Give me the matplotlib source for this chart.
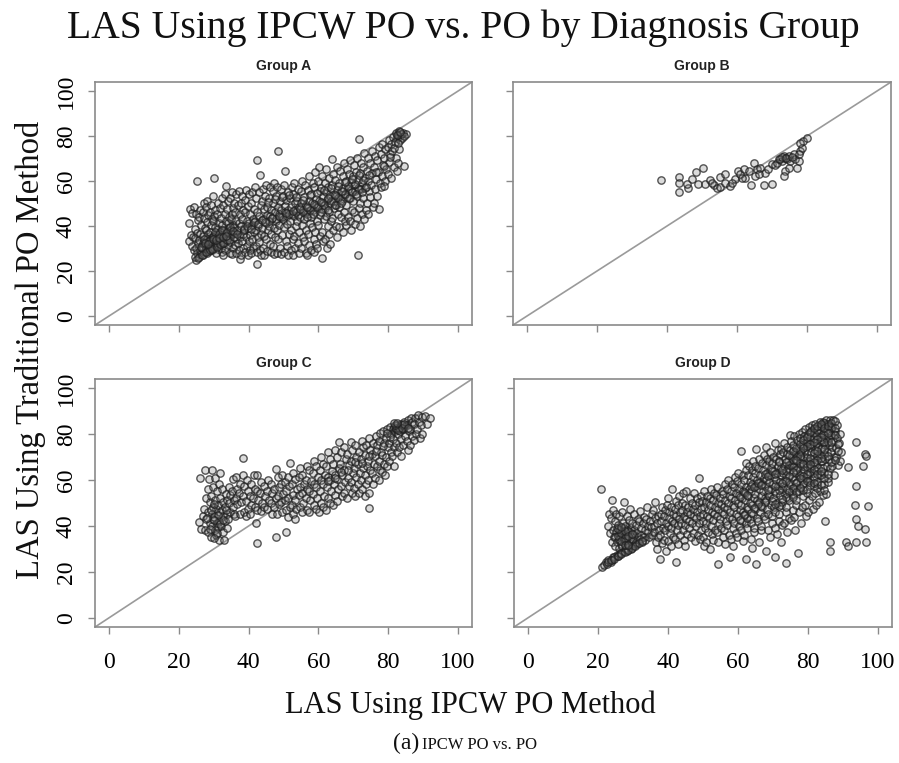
import numpy as np
import matplotlib.pyplot as plt

# (IPCW PO, traditional PO) LAS pairs, estimated point by point from the reference
group_a_pts = [
    (23.2, 47.5), (22.8, 41.3), (23.6, 36.2), (22.9, 33.4),
    (24.3, 48.4), (23.9, 45.6), (24.5, 38.7), (24.1, 35.3), (23.7, 31.2), (24.4, 29.5),
    (25.1, 60.2), (24.8, 45.3), (25.4, 42.6), (25.2, 37.1), (24.7, 34.6), (25.5, 32.3),
    (24.9, 30.4), (25.3, 28.1), (24.6, 26.3), (25.0, 25.1),
    (26.2, 47.3), (25.8, 44.2), (26.4, 40.6), (26.1, 36.4), (25.7, 33.8), (26.5, 31.2),
    (26.0, 29.3), (26.3, 27.4), (25.9, 26.2),
    (27.3, 50.4), (26.8, 46.1), (27.1, 43.5), (27.5, 39.2), (26.9, 35.6), (27.2, 33.1),
    (27.6, 31.5), (26.7, 30.2), (27.4, 28.3), (27.0, 27.2),
    (28.1, 51.2), (27.8, 48.5), (28.4, 45.1), (28.2, 41.6), (27.9, 38.3), (28.5, 36.4),
    (28.0, 34.2), (28.3, 32.5), (27.7, 30.4), (28.6, 29.1), (28.2, 28.2),
    (29.2, 49.5), (28.9, 46.3), (29.4, 43.2), (29.1, 40.5), (28.8, 37.4), (29.5, 35.2),
    (29.0, 33.6), (29.3, 31.1), (28.7, 30.1), (29.6, 29.4),
    (30.1, 61.2), (29.9, 53.4), (30.4, 47.3), (30.2, 44.6), (29.8, 42.1), (30.5, 39.4),
    (30.0, 36.2), (30.3, 34.5), (29.7, 32.2), (30.6, 31.3), (30.2, 30.3),
    (31.2, 50.3), (30.8, 45.5), (31.4, 41.2), (31.1, 38.6), (30.9, 35.3), (31.5, 33.2),
    (31.0, 31.4), (31.3, 29.6), (30.7, 27.8),
    (32.3, 52.4), (31.8, 48.1), (32.1, 43.5), (32.5, 40.3), (31.9, 37.2), (32.2, 35.6),
    (32.6, 33.1), (32.0, 30.4), (32.4, 28.5),
    (33.4, 57.8), (33.1, 54.2), (32.8, 49.4), (33.3, 45.2), (33.6, 42.4), (32.9, 38.3),
    (33.2, 36.5), (33.5, 34.2), (33.0, 32.3), (33.3, 29.4), (32.8, 27.3),
    (34.2, 51.3), (33.9, 47.4), (34.4, 44.1), (34.0, 41.5), (34.5, 39.2), (33.8, 37.3),
    (34.3, 35.1), (34.1, 31.4), (34.6, 28.2),
    (35.1, 55.3), (34.8, 52.4), (35.4, 48.2), (35.2, 45.4), (34.9, 43.1), (35.5, 40.3),
    (35.0, 38.2), (35.3, 36.4), (34.7, 33.1), (35.6, 30.2), (35.2, 27.4),
    (36.3, 54.1), (35.8, 50.4), (36.1, 46.3), (36.5, 42.2), (35.9, 39.4), (36.2, 37.1),
    (36.6, 34.3), (36.0, 31.4), (36.4, 28.2),
    (37.2, 55.4), (36.9, 49.2), (37.5, 45.3), (37.1, 41.4), (36.8, 38.2), (37.4, 35.1),
    (37.0, 32.4), (37.3, 29.2), (37.5, 25.3),
    (38.1, 53.2), (37.8, 50.4), (38.4, 47.1), (38.2, 43.3), (37.9, 40.2), (38.5, 36.4),
    (38.0, 33.2), (38.3, 30.1), (37.7, 27.3),
    (39.3, 56.2), (38.9, 51.4), (39.1, 46.2), (39.5, 42.3), (38.8, 38.4), (39.2, 35.2),
    (39.6, 31.3), (39.0, 28.4),
    (40.2, 54.3), (39.8, 49.1), (40.4, 45.4), (40.1, 41.2), (39.9, 39.3), (40.5, 36.1),
    (40.0, 33.4), (40.3, 29.2), (39.7, 27.3),
    (41.1, 55.2), (40.8, 50.3), (41.4, 47.4), (41.2, 43.2), (40.9, 40.4), (41.5, 37.3),
    (41.0, 34.2), (41.3, 30.4), (40.7, 28.2),
    (42.3, 69.2), (41.9, 57.4), (42.2, 52.3), (42.5, 46.1), (41.8, 42.4), (42.1, 38.2),
    (42.6, 35.3), (42.0, 31.2), (42.4, 28.4), (42.3, 23.3),
    (43.3, 62.7), (42.9, 55.3), (43.4, 49.2), (43.1, 44.4), (42.8, 40.2), (43.5, 36.3),
    (43.0, 33.1), (43.2, 29.4), (43.6, 27.2),
    (44.2, 56.3), (43.8, 51.1), (44.4, 47.4), (44.1, 43.2), (43.9, 39.3), (44.5, 35.4),
    (44.0, 30.2), (44.3, 27.3),
    (45.1, 58.4), (44.8, 53.2), (45.4, 48.3), (45.2, 45.1), (44.9, 41.4), (45.5, 38.2),
    (45.0, 34.3), (45.3, 29.1),
    (46.2, 57.3), (45.8, 52.4), (46.4, 47.2), (46.1, 44.3), (45.9, 40.1), (46.5, 36.4),
    (46.0, 32.2), (46.3, 28.3),
    (47.3, 59.2), (46.9, 55.4), (47.1, 50.3), (47.5, 46.2), (46.8, 43.4), (47.2, 39.1),
    (47.6, 35.3), (47.0, 31.2), (47.4, 27.4),
    (48.4, 73.2), (48.1, 57.3), (47.8, 53.2), (48.3, 48.4), (48.6, 45.2), (47.9, 42.3),
    (48.2, 38.1), (48.5, 34.4), (48.0, 28.2),
    (49.2, 56.4), (48.9, 51.2), (49.4, 47.3), (49.1, 44.1), (48.8, 40.4), (49.5, 36.2),
    (49.0, 30.3), (49.3, 27.4),
    (50.4, 64.4), (50.1, 58.2), (49.8, 53.3), (50.3, 49.1), (50.5, 46.4), (49.9, 43.2),
    (50.2, 39.4), (50.6, 33.2), (50.0, 28.3),
    (51.2, 55.3), (50.8, 51.4), (51.4, 47.2), (51.1, 44.3), (50.9, 41.1), (51.5, 36.4),
    (51.0, 31.2), (51.3, 27.3),
    (52.3, 57.2), (51.9, 52.3), (52.1, 48.4), (52.5, 45.2), (51.8, 42.1), (52.2, 38.3),
    (52.6, 34.2), (52.0, 29.4),
    (53.1, 59.3), (52.8, 54.2), (53.4, 50.4), (53.2, 47.1), (52.9, 44.3), (53.5, 40.2),
    (53.0, 35.4), (53.3, 30.1), (52.7, 27.2),
    (54.2, 56.4), (53.8, 51.2), (54.4, 48.3), (54.1, 45.1), (53.9, 42.4), (54.5, 37.2),
    (54.0, 32.3), (54.3, 28.1),
    (55.3, 60.2), (54.9, 55.4), (55.1, 50.2), (55.5, 47.3), (54.8, 44.2), (55.2, 40.4),
    (55.6, 35.1), (55.0, 30.3),
    (56.1, 58.3), (55.8, 53.1), (56.4, 49.4), (56.2, 46.2), (55.9, 43.3), (56.5, 38.1),
    (56.0, 33.4), (56.3, 28.2),
    (57.2, 62.4), (56.9, 56.2), (57.4, 51.3), (57.1, 48.1), (56.8, 45.4), (57.5, 41.2),
    (57.0, 36.3), (57.3, 31.4), (56.7, 27.2),
    (58.3, 59.2), (57.9, 54.4), (58.2, 50.1), (58.5, 47.3), (57.8, 44.2), (58.1, 39.4),
    (58.6, 34.1), (58.0, 29.3),
    (59.1, 64.2), (58.8, 57.3), (59.4, 52.2), (59.2, 49.4), (58.9, 46.1), (59.5, 42.3),
    (59.0, 37.4), (59.3, 32.2), (58.7, 28.4),
    (60.2, 66.3), (59.8, 60.1), (60.4, 55.4), (60.1, 51.2), (59.9, 48.3), (60.5, 45.1),
    (60.0, 40.3), (60.3, 35.4), (59.7, 30.2),
    (61.0, 62.4), (60.8, 57.1), (61.4, 53.3), (61.2, 50.2), (60.9, 47.4), (61.5, 43.1),
    (61.1, 37.3), (61.3, 33.2), (61.0, 25.6),
    (62.3, 65.2), (61.9, 59.3), (62.1, 55.1), (62.5, 51.4), (61.8, 48.2), (62.2, 44.3),
    (62.6, 40.1), (62.0, 34.4), (62.4, 30.2),
    (63.1, 61.3), (62.8, 57.2), (63.4, 53.4), (63.2, 50.1), (62.9, 46.3), (63.5, 42.2),
    (63.0, 36.4), (63.3, 32.1),
    (63.8, 69.6), (64.2, 63.3), (63.9, 58.4), (64.4, 54.2), (64.1, 51.3), (64.5, 48.1),
    (64.0, 43.4), (64.3, 38.2),
    (65.2, 66.1), (64.8, 60.3), (65.4, 56.2), (65.1, 53.4), (64.9, 49.2), (65.5, 45.3),
    (65.0, 40.1), (65.3, 35.2),
    (66.1, 64.3), (65.8, 59.2), (66.4, 55.4), (66.2, 52.1), (65.9, 48.3), (66.5, 44.2),
    (66.0, 39.4),
    (67.3, 68.2), (66.9, 62.4), (67.1, 57.1), (67.5, 54.3), (66.8, 51.2), (67.2, 46.4),
    (67.6, 42.1), (67.0, 37.3),
    (68.2, 65.4), (67.8, 60.2), (68.4, 56.3), (68.1, 53.1), (67.9, 49.4), (68.5, 44.2),
    (68.0, 40.3),
    (69.1, 69.3), (68.8, 63.1), (69.4, 59.4), (69.2, 56.2), (68.9, 52.3), (69.5, 47.1),
    (69.0, 42.4), (69.3, 38.2),
    (70.3, 67.2), (69.9, 62.3), (70.1, 58.1), (70.5, 55.4), (69.8, 51.2), (70.2, 46.3),
    (70.6, 41.1),
    (71.5, 78.8), (71.1, 70.3), (70.8, 64.2), (71.4, 60.4), (71.2, 57.1), (70.9, 53.3),
    (71.5, 48.2), (71.0, 43.4), (71.3, 27.1),
    (72.2, 68.1), (71.8, 63.4), (72.4, 59.2), (72.1, 56.3), (71.9, 50.1), (72.5, 45.4),
    (72.0, 40.2),
    (73.1, 72.4), (72.8, 66.2), (73.4, 61.3), (73.2, 57.1), (72.9, 52.4), (73.5, 47.2),
    (73.0, 43.1),
    (74.3, 70.2), (73.9, 64.3), (74.1, 60.1), (74.5, 55.4), (73.8, 50.2), (74.2, 45.3),
    (75.2, 73.3), (74.8, 68.1), (75.4, 63.4), (75.1, 58.2), (74.9, 53.1), (75.5, 48.4),
    (76.1, 71.2), (75.8, 66.4), (76.4, 61.1), (76.2, 56.3), (75.9, 50.2),
    (77.3, 75.1), (76.9, 69.4), (77.1, 64.2), (77.5, 59.3), (76.8, 53.4), (77.2, 47.6),
    (78.2, 76.4), (77.8, 72.2), (78.4, 67.1), (78.1, 62.3), (77.9, 57.2),
    (79.1, 74.2), (78.8, 70.3), (79.4, 65.4), (79.2, 60.1), (78.9, 57.8),
    (80.2, 78.3), (79.8, 75.2), (80.4, 72.1), (80.1, 68.4), (79.9, 63.2),
    (81.3, 79.4), (80.9, 76.3), (81.1, 73.2), (81.5, 66.1), (80.8, 61.3),
    (82.1, 81.2), (82.5, 79.1), (81.8, 77.3), (82.2, 70.2), (82.4, 64.3),
    (83.2, 82.1), (82.9, 80.4), (83.4, 78.2), (83.1, 74.3), (82.8, 68.1),
    (84.1, 81.3), (83.8, 79.2), (84.4, 66.7), (85.0, 81.1),
    (25.6, 25.9), (26.6, 27.1), (27.7, 28.4), (28.9, 29.2), (29.4, 29.9), (30.8, 30.6),
    (31.7, 31.9), (32.7, 32.4), (33.8, 33.6), (34.4, 33.9), (35.8, 35.1), (26.8, 32.4),
    (27.3, 34.3), (28.6, 33.4), (29.8, 35.1), (30.4, 37.3), (31.6, 36.4), (32.3, 38.4),
    (33.7, 37.2), (34.8, 39.4),
    (45.7, 42.1), (47.7, 43.2), (49.6, 44.2), (51.6, 45.3), (53.6, 46.2), (55.7, 46.4),
    (57.6, 47.2), (59.6, 48.3), (61.6, 49.4), (63.6, 51.2), (65.6, 52.4), (67.7, 54.1),
    (69.6, 55.3), (71.7, 56.3), (73.6, 57.4), (56.6, 44.1), (58.4, 45.4), (60.7, 46.2),
    (62.8, 47.3), (64.7, 49.4), (66.6, 50.3), (68.7, 52.4), (70.7, 54.2), (72.6, 55.1),
    (26.4, 30.7), (27.6, 32.6), (28.4, 31.8), (29.7, 34.2), (30.7, 33.7), (31.4, 34.7),
    (32.8, 35.2), (33.6, 35.6), (35.6, 37.7), (36.7, 36.4), (38.7, 38.7), (39.6, 39.8),
    (40.6, 38.6), (41.6, 41.7), (42.7, 40.8), (43.7, 42.6), (44.6, 41.6), (46.6, 43.7),
    (48.7, 44.6), (50.6, 45.7), (52.7, 46.8), (54.6, 47.7), (56.7, 48.6), (58.6, 49.7),
    (60.6, 50.6), (62.7, 52.6), (64.6, 53.7), (66.7, 55.6), (68.6, 57.7), (70.6, 58.8),
    (72.7, 60.6), (74.6, 62.7), (76.6, 63.8), (78.7, 66.7), (80.6, 70.7), (81.6, 74.7),
    (82.7, 76.7), (83.6, 80.7), (84.6, 80.2), (82.4, 80.6), (83.4, 81.6), (45.6, 50.7),
    (47.6, 51.8), (49.7, 52.7), (51.6, 53.6), (53.6, 52.7), (55.7, 51.7), (57.6, 53.7),
    (59.7, 54.6), (61.7, 55.8), (63.6, 56.7), (65.7, 57.8), (67.7, 59.7), (69.7, 60.8),
    (71.7, 62.7),
]

group_b_pts = [
    (38.4, 60.3), (43.5, 61.8), (43.5, 55.3), (43.3, 59.3), (46.0, 57.0), (45.7, 58.8),
    (47.1, 60.7), (48.3, 64.0), (50.2, 65.9), (49.0, 58.8), (51.0, 58.8), (52.4, 60.4),
    (53.3, 58.2), (54.3, 57.0), (55.2, 57.3), (55.2, 61.8), (56.7, 63.0), (56.7, 59.3),
    (58.1, 57.8), (59.5, 60.7), (60.3, 64.4), (61.0, 63.0), (61.9, 65.2), (62.4, 61.5),
    (63.3, 64.4), (64.1, 58.2), (64.8, 68.1), (65.2, 62.2), (65.7, 65.2), (66.7, 65.9),
    (67.6, 58.1), (70.0, 58.5), (68.1, 63.7), (69.0, 65.2), (70.0, 67.4), (71.0, 67.1),
    (71.4, 68.1), (71.9, 69.6), (72.9, 68.9), (73.3, 71.1), (73.8, 70.4), (74.3, 69.6),
    (74.8, 71.1), (75.2, 68.9), (73.8, 64.4), (73.3, 62.2), (74.8, 65.9), (76.2, 71.9),
    (76.7, 69.6), (77.1, 65.6), (78.1, 73.3), (78.6, 74.8), (79.0, 77.8), (80.0, 79.0),
    (78.1, 77.0), (77.6, 68.9), (52.9, 59.3), (58.6, 59.3), (61.5, 61.5), (66.2, 63.0),
    (72.4, 70.0), (73.0, 70.5), (74.0, 70.2), (75.6, 70.8), (77.8, 72.0),
]

group_c_pts = [
    (25.7, 41.8),
    (26.2, 61.1), (26.8, 44.2), (26.4, 38.7),
    (27.4, 64.3), (27.7, 52.2), (27.2, 47.4), (27.8, 43.1), (27.5, 38.2),
    (28.6, 60.3), (28.3, 56.1), (28.8, 50.4), (28.4, 46.2), (28.9, 41.3), (28.5, 37.2),
    (29.5, 64.4), (29.7, 57.2), (29.3, 53.1), (29.8, 48.3), (29.4, 45.4), (29.9, 43.2),
    (29.6, 40.1), (29.2, 35.3),
    (30.4, 61.1), (30.8, 55.3), (30.3, 51.2), (30.7, 47.4), (30.2, 44.1), (30.9, 41.3),
    (30.5, 38.2), (30.6, 36.1),
    (31.9, 63.3), (31.4, 58.2), (31.7, 52.4), (31.3, 49.1), (31.8, 46.3), (31.5, 42.2),
    (31.2, 39.4), (31.6, 34.1),
    (32.3, 56.2), (32.8, 50.4), (32.4, 47.1), (32.7, 44.3), (32.2, 40.2), (32.6, 37.4),
    (32.9, 33.8),
    (33.4, 54.1), (33.8, 51.3), (33.2, 48.2), (33.7, 45.4), (33.3, 42.1), (33.9, 39.3),
    (34.3, 57.2), (34.7, 53.4), (34.4, 50.1), (34.8, 46.3), (34.2, 43.2),
    (35.6, 60.3), (35.3, 55.1), (35.8, 51.4), (35.4, 48.2), (35.7, 45.1),
    (36.4, 61.2), (36.8, 56.3), (36.3, 52.1), (36.7, 49.4), (36.2, 44.3),
    (37.6, 58.1), (37.3, 54.2), (37.8, 50.3), (37.4, 45.2),
    (38.5, 69.5), (38.3, 62.1), (38.8, 57.4), (38.4, 53.2), (38.7, 46.1),
    (39.4, 60.2), (39.8, 55.3), (39.3, 51.1), (39.7, 47.4), (39.2, 44.2),
    (40.6, 58.3), (40.3, 53.1), (40.8, 49.2), (40.4, 45.3),
    (41.4, 62.2), (41.8, 56.1), (41.3, 52.4), (41.7, 48.2), (42.0, 41.5),
    (42.5, 62.1), (42.3, 55.2), (42.8, 51.3), (42.4, 47.1), (42.3, 32.4),
    (43.6, 59.2), (43.3, 54.3), (43.8, 50.1), (43.4, 46.4),
    (44.4, 57.3), (44.8, 53.2), (44.3, 48.1),
    (45.6, 60.1), (45.3, 55.4), (45.8, 51.2), (45.4, 47.3),
    (46.4, 58.2), (46.8, 54.3), (46.3, 50.1), (46.7, 45.2),
    (47.7, 65.0), (47.3, 56.2), (47.8, 52.4), (47.4, 48.1), (47.7, 35.0),
    (48.4, 61.3), (48.8, 57.1), (48.3, 53.2), (48.7, 49.4), (48.2, 45.1),
    (49.6, 62.2), (49.3, 58.4), (49.8, 54.1), (49.4, 50.3), (49.7, 46.2),
    (50.4, 59.1), (50.8, 55.2), (50.3, 51.4), (50.7, 47.1), (50.8, 37.2),
    (51.8, 67.3), (51.3, 61.2), (51.7, 57.4), (51.4, 52.1), (51.8, 48.3), (51.2, 44.1),
    (52.6, 63.2), (52.3, 58.1), (52.8, 53.3), (52.4, 49.2), (52.7, 45.4),
    (53.4, 60.3), (53.8, 56.1), (53.3, 51.2), (53.7, 47.4), (53.2, 43.1),
    (54.6, 65.2), (54.3, 61.4), (54.8, 57.1), (54.4, 53.3), (54.7, 48.2),
    (55.4, 62.1), (55.8, 58.3), (55.3, 54.2), (55.7, 50.1), (55.2, 46.3),
    (56.6, 66.3), (56.3, 60.1), (56.8, 56.2), (56.4, 52.4), (56.7, 47.1),
    (57.4, 64.2), (57.8, 59.4), (57.3, 55.1), (57.7, 51.3), (57.2, 46.2),
    (58.6, 68.1), (58.3, 63.2), (58.8, 58.4), (58.4, 54.1), (58.7, 49.3),
    (59.4, 66.2), (59.8, 61.3), (59.3, 57.1), (59.7, 52.2), (59.2, 47.4),
    (60.6, 70.1), (60.3, 64.3), (60.8, 60.2), (60.4, 55.4), (60.7, 50.1), (60.2, 46.2),
    (61.4, 67.2), (61.8, 62.1), (61.3, 58.3), (61.7, 53.2), (61.2, 48.4),
    (62.6, 72.2), (62.3, 66.1), (62.8, 61.3), (62.4, 57.2), (62.7, 52.4), (62.2, 47.1),
    (63.4, 69.3), (63.8, 64.1), (63.3, 60.2), (63.7, 55.3), (63.2, 50.2),
    (64.6, 73.1), (64.3, 67.2), (64.8, 62.3), (64.4, 58.1), (64.7, 53.4), (64.2, 49.2),
    (66.0, 76.6), (65.3, 70.2), (65.8, 65.1), (65.4, 60.3), (65.7, 56.2), (65.2, 51.1),
    (66.6, 72.3), (66.3, 67.1), (66.8, 62.2), (66.4, 57.4), (66.7, 53.1),
    (67.4, 74.2), (67.8, 69.1), (67.3, 64.3), (67.7, 59.2), (67.2, 54.4),
    (69.3, 76.6), (68.3, 71.2), (68.8, 66.4), (68.4, 61.1), (68.7, 57.3), (68.2, 52.2),
    (69.6, 73.1), (69.3, 68.3), (69.8, 63.2), (69.4, 59.1), (69.7, 54.3),
    (70.4, 75.2), (70.8, 70.1), (70.3, 65.3), (70.7, 61.2), (70.2, 56.4), (70.6, 53.1),
    (71.6, 72.3), (71.3, 67.2), (71.8, 63.1), (71.4, 58.3), (71.7, 54.2),
    (72.4, 77.1), (72.8, 74.2), (72.3, 69.3), (72.7, 65.1), (72.2, 60.2), (72.6, 56.3),
    (73.6, 75.3), (73.3, 71.1), (73.8, 66.2), (73.4, 62.4), (73.7, 58.1), (73.2, 53.2),
    (74.4, 78.2), (74.8, 73.1), (74.3, 68.3), (74.7, 64.2), (74.2, 60.1), (74.6, 54.3),
    (74.5, 48.0),
    (75.6, 76.1), (75.3, 71.3), (75.8, 67.2), (75.4, 63.1), (75.7, 58.4),
    (76.4, 79.2), (76.8, 75.1), (76.3, 70.3), (76.7, 66.2), (76.2, 61.1),
    (77.6, 80.3), (77.3, 77.2), (77.8, 72.1), (77.4, 68.3), (77.7, 64.2), (77.2, 60.1),
    (78.4, 81.2), (78.8, 76.3), (78.3, 71.1), (78.7, 67.2), (78.2, 63.4),
    (79.6, 82.1), (79.3, 78.2), (79.8, 74.3), (79.4, 70.1), (79.7, 66.2), (79.2, 62.3),
    (80.4, 83.2), (80.8, 80.1), (80.3, 76.2), (80.7, 72.3), (80.2, 68.1),
    (81.6, 83.3), (81.3, 82.1), (81.8, 81.2), (81.4, 78.1), (81.7, 74.2), (81.2, 70.3),
    (81.6, 66.1),
    (82.4, 84.1), (82.8, 83.2), (82.3, 82.4), (82.7, 80.1), (82.2, 76.3), (82.6, 72.2),
    (83.6, 84.3), (83.3, 83.1), (83.8, 82.2), (83.4, 81.3), (83.7, 78.1), (83.2, 74.2),
    (83.6, 70.3),
    (84.4, 85.2), (84.8, 83.4), (84.3, 82.1), (84.7, 79.2), (84.2, 75.3),
    (85.6, 86.1), (85.3, 84.2), (85.8, 81.3), (85.4, 77.1), (85.7, 73.2),
    (86.4, 87.2), (86.8, 85.1), (86.3, 82.3), (86.7, 79.1), (86.2, 75.2),
    (87.6, 87.1), (87.3, 84.3), (87.8, 80.2), (87.4, 77.3),
    (88.4, 88.2), (88.8, 85.1), (88.3, 82.2), (89.0, 78.5),
    (89.6, 87.3), (89.3, 84.1), (89.8, 80.2), (90.4, 88.1), (91.0, 84.3), (92.0, 87.2),
    (82.1, 82.8), (83.0, 82.6), (84.0, 83.8), (82.9, 81.7), (83.9, 82.7), (81.9, 83.9),
    (29.2, 46.8), (30.2, 49.7), (28.2, 43.7), (31.2, 44.6), (30.0, 42.7), (29.0, 38.6),
    (31.0, 36.8), (30.0, 34.7), (31.9, 40.7), (32.7, 42.6), (33.6, 46.8), (62.7, 59.6),
    (64.6, 60.7), (66.6, 63.7), (68.6, 64.6), (70.6, 67.7), (72.6, 67.6), (74.6, 70.7),
    (76.6, 72.7), (78.6, 74.7), (80.6, 78.7), (79.6, 80.6), (81.6, 84.7), (84.6, 84.6),
    (85.6, 82.7), (82.6, 84.9),
]

group_d_pts = [
    (21.0, 56.3), (21.2, 22.1), (22.3, 24.2), (21.8, 23.0), (22.6, 23.6),
    (23.1, 45.3), (22.8, 40.2), (23.4, 37.1), (23.0, 25.4), (23.6, 24.3),
    (24.0, 51.2), (24.3, 46.8), (23.8, 43.3), (24.2, 38.4), (24.5, 35.2), (23.9, 33.1),
    (24.4, 26.3), (24.1, 25.2),
    (25.2, 45.1), (24.8, 42.3), (25.4, 39.2), (25.1, 37.4), (24.9, 35.3), (25.5, 33.2),
    (25.0, 31.4), (25.3, 27.2), (24.7, 26.4),
    (26.1, 44.2), (25.8, 40.4), (26.4, 38.1), (26.2, 36.3), (25.9, 34.4), (26.5, 32.1),
    (26.0, 30.3), (26.3, 28.2), (25.7, 27.1),
    (27.3, 50.5), (26.9, 46.2), (27.1, 41.3), (27.5, 39.1), (26.8, 37.4), (27.2, 35.2),
    (27.6, 33.3), (27.0, 31.1), (27.4, 29.3), (26.7, 28.2),
    (28.2, 44.3), (27.8, 40.1), (28.4, 38.4), (28.1, 36.2), (27.9, 34.1), (28.5, 32.3),
    (28.0, 30.4), (28.3, 29.1),
    (29.1, 47.2), (28.8, 42.4), (29.4, 39.1), (29.2, 37.3), (28.9, 35.2), (29.5, 33.4),
    (29.0, 31.2), (29.3, 30.1),
    (30.2, 45.3), (29.8, 41.1), (30.4, 38.2), (30.1, 36.4), (29.9, 34.1), (30.5, 32.3),
    (30.0, 31.1),
    (31.3, 43.2), (30.9, 40.3), (31.1, 37.1), (31.5, 35.4), (30.8, 33.2), (31.2, 32.1),
    (32.1, 46.4), (31.8, 42.2), (32.4, 39.3), (32.2, 36.1), (31.9, 34.3), (32.5, 33.2),
    (33.2, 44.1), (32.9, 41.3), (33.4, 38.2), (33.1, 35.4), (33.5, 34.1),
    (34.1, 48.3), (33.8, 43.2), (34.4, 40.1), (34.2, 37.3), (34.5, 35.2),
    (35.3, 45.2), (34.9, 42.1), (35.1, 39.4), (35.5, 36.2),
    (36.2, 50.4), (35.8, 47.1), (36.4, 43.3), (36.1, 40.2), (35.9, 37.4), (36.5, 33.1),
    (37.1, 44.3), (36.8, 41.2), (37.4, 38.1), (37.2, 35.3), (36.9, 30.2), (37.6, 25.5),
    (38.3, 48.2), (37.9, 45.4), (38.1, 42.3), (38.5, 39.2), (37.8, 36.1), (38.2, 32.4),
    (39.2, 47.1), (38.8, 44.3), (39.4, 41.2), (39.1, 38.4), (38.9, 34.1), (39.5, 29.3),
    (40.1, 52.3), (39.8, 49.2), (40.4, 46.1), (40.2, 43.4), (39.9, 40.2), (40.5, 37.1),
    (40.0, 33.3),
    (41.2, 56.0), (40.9, 48.4), (41.4, 45.2), (41.1, 42.1), (40.8, 39.3), (41.5, 35.2),
    (41.0, 31.4),
    (42.4, 50.9), (42.0, 47.2), (42.3, 44.4), (41.8, 41.1), (42.5, 38.3), (42.1, 34.2),
    (42.4, 24.4),
    (43.1, 53.2), (42.8, 49.1), (43.4, 46.3), (43.2, 43.2), (42.9, 40.4), (43.5, 36.1),
    (43.0, 32.2),
    (44.3, 54.3), (43.9, 50.2), (44.1, 47.1), (44.5, 44.3), (43.8, 41.2), (44.2, 38.4),
    (44.6, 34.1),
    (45.1, 55.2), (44.8, 49.3), (45.4, 46.2), (45.2, 43.1), (44.9, 40.3), (45.5, 36.4),
    (45.0, 31.2),
    (46.2, 52.1), (45.8, 48.4), (46.4, 45.3), (46.1, 42.2), (45.9, 39.1), (46.5, 35.3),
    (47.3, 54.2), (46.9, 50.1), (47.1, 47.3), (47.5, 44.2), (46.8, 41.4), (47.2, 37.1),
    (47.6, 33.3),
    (48.2, 52.4), (47.8, 49.2), (48.4, 46.1), (48.1, 43.3), (47.9, 40.1), (48.5, 36.2),
    (49.0, 61.1), (49.3, 53.1), (48.9, 50.3), (49.4, 47.2), (49.1, 44.4), (48.8, 41.1),
    (49.5, 38.3), (49.2, 34.2),
    (50.2, 55.3), (49.8, 51.1), (50.4, 48.2), (50.1, 45.4), (49.9, 42.2), (50.5, 39.1),
    (50.0, 35.3), (50.3, 31.2),
    (51.1, 53.2), (50.8, 50.4), (51.4, 47.1), (51.2, 44.3), (50.9, 41.2), (51.5, 37.4),
    (51.0, 33.1),
    (52.3, 56.1), (51.9, 52.3), (52.1, 49.2), (52.5, 46.1), (51.8, 43.3), (52.2, 40.2),
    (52.6, 36.4), (52.0, 30.1),
    (53.2, 54.3), (52.8, 51.2), (53.4, 48.1), (53.1, 45.3), (52.9, 42.4), (53.5, 38.2),
    (53.0, 34.1),
    (54.1, 57.2), (53.8, 53.4), (54.4, 50.1), (54.2, 47.3), (53.9, 44.2), (54.5, 41.1),
    (54.0, 37.3), (54.3, 33.2), (54.3, 23.4),
    (55.3, 55.1), (54.9, 52.2), (55.1, 49.4), (55.5, 46.2), (54.8, 43.1), (55.2, 39.3),
    (55.6, 35.2),
    (56.2, 58.3), (55.8, 54.1), (56.4, 51.2), (56.1, 48.4), (55.9, 45.1), (56.5, 42.3),
    (56.0, 38.2), (56.3, 32.1),
    (57.1, 60.2), (56.8, 56.3), (57.4, 53.1), (57.2, 50.2), (56.9, 47.4), (57.5, 44.1),
    (57.0, 40.3), (57.3, 36.2), (57.6, 26.3),
    (58.3, 58.1), (57.9, 55.2), (58.1, 52.4), (58.5, 49.1), (57.8, 46.3), (58.2, 43.2),
    (58.6, 39.1), (58.0, 34.4),
    (59.2, 61.3), (58.8, 57.1), (59.4, 54.2), (59.1, 51.4), (58.9, 48.1), (59.5, 45.3),
    (59.0, 41.2), (59.3, 37.1), (58.7, 31.3),
    (60.1, 63.2), (59.8, 59.4), (60.4, 56.1), (60.2, 53.3), (59.9, 50.2), (60.5, 47.1),
    (60.0, 44.3), (60.3, 40.2), (59.7, 35.4),
    (61.0, 72.7), (61.3, 62.1), (60.9, 58.3), (61.4, 55.2), (61.1, 52.4), (60.8, 49.1),
    (61.5, 46.3), (61.2, 42.2), (60.9, 38.1), (61.4, 33.3),
    (62.4, 67.6), (62.2, 64.3), (61.8, 60.2), (62.4, 57.1), (62.1, 54.3), (61.9, 51.2),
    (62.5, 48.4), (62.0, 45.1), (62.3, 41.3), (61.7, 36.2), (62.4, 25.5),
    (63.1, 66.2), (62.8, 62.4), (63.4, 59.1), (63.2, 56.3), (62.9, 53.2), (63.5, 50.1),
    (63.0, 47.3), (63.3, 43.1), (62.7, 39.2), (63.6, 34.3),
    (64.2, 68.1), (63.9, 64.3), (64.4, 61.2), (64.1, 58.4), (63.8, 55.1), (64.5, 52.3),
    (64.0, 49.2), (64.3, 45.4), (63.7, 41.1), (64.6, 37.2), (64.1, 30.3),
    (65.2, 73.7), (65.0, 66.3), (64.8, 63.1), (65.4, 60.2), (65.1, 57.4), (64.9, 54.1),
    (65.5, 51.3), (65.0, 47.2), (65.3, 43.4), (64.7, 39.1), (65.2, 23.4),
    (66.1, 69.2), (65.8, 65.4), (66.4, 62.1), (66.2, 59.3), (65.9, 56.2), (66.5, 53.1),
    (66.0, 50.4), (66.3, 46.2), (65.7, 42.1), (66.6, 38.3), (66.1, 33.2),
    (67.3, 71.1), (66.9, 67.3), (67.1, 64.2), (67.5, 61.1), (66.8, 58.3), (67.2, 55.2),
    (67.6, 52.1), (67.0, 48.4), (67.4, 44.2), (66.7, 40.1),
    (68.0, 74.6), (68.3, 69.2), (67.9, 66.4), (68.4, 63.1), (68.1, 60.2), (67.8, 57.3),
    (68.5, 54.1), (68.0, 51.2), (68.3, 47.3), (67.7, 43.1), (68.6, 38.2), (68.1, 29.2),
    (69.2, 72.3), (68.8, 68.1), (69.4, 65.2), (69.1, 62.4), (68.9, 59.1), (69.5, 56.3),
    (69.0, 53.2), (69.3, 49.1), (68.7, 45.3), (69.6, 41.2), (69.1, 35.1),
    (70.5, 76.3), (70.1, 70.2), (69.8, 67.4), (70.4, 64.1), (70.2, 61.3), (69.9, 58.2),
    (70.5, 55.1), (70.0, 52.3), (70.3, 48.2), (69.7, 44.4), (70.6, 39.2), (70.5, 26.3),
    (71.3, 73.2), (70.9, 69.1), (71.4, 66.3), (71.1, 63.2), (70.8, 60.1), (71.5, 57.3),
    (71.0, 54.2), (71.2, 50.1), (70.7, 46.3), (71.6, 42.2), (71.1, 36.4),
    (72.4, 73.4), (72.1, 71.2), (71.8, 68.3), (72.4, 65.1), (72.2, 62.4), (71.9, 59.2),
    (72.5, 56.1), (72.0, 53.3), (72.3, 49.2), (71.7, 45.1), (72.6, 40.3), (72.2, 33.1),
    (73.2, 76.1), (72.8, 72.3), (73.4, 69.2), (73.1, 66.1), (72.9, 63.3), (73.5, 60.2),
    (73.0, 57.4), (73.3, 54.1), (72.7, 50.3), (73.6, 46.2), (73.1, 41.1), (73.8, 24.1),
    (74.8, 79.5), (74.1, 74.2), (73.9, 71.3), (74.4, 68.1), (74.2, 65.2), (73.8, 62.4),
    (74.5, 59.1), (74.0, 56.3), (74.3, 52.2), (73.7, 48.1), (74.6, 43.3), (74.1, 37.2),
    (75.2, 77.1), (74.8, 73.2), (75.4, 70.4), (75.1, 67.1), (74.9, 64.3), (75.5, 61.2),
    (75.0, 58.1), (75.3, 55.3), (74.7, 51.2), (75.6, 47.1), (75.1, 42.4),
    (76.1, 79.3), (75.8, 75.1), (76.4, 72.2), (76.2, 69.4), (75.9, 66.1), (76.5, 63.3),
    (76.0, 60.2), (76.3, 57.1), (75.7, 53.3), (76.6, 49.2), (76.1, 44.1), (76.4, 38.3),
    (77.3, 80.2), (76.9, 77.4), (77.1, 74.1), (77.5, 71.3), (76.8, 68.2), (77.2, 65.1),
    (77.6, 62.3), (77.0, 59.2), (77.4, 55.1), (76.7, 51.3), (77.3, 46.2), (77.1, 28.4),
    (78.2, 81.1), (77.8, 78.3), (78.4, 75.2), (78.1, 72.1), (77.9, 69.3), (78.5, 66.2),
    (78.0, 63.1), (78.3, 60.4), (77.7, 57.2), (78.6, 53.1), (78.2, 48.3), (78.1, 41.2),
    (79.1, 82.3), (78.8, 79.1), (79.4, 76.3), (79.2, 73.2), (78.9, 70.1), (79.5, 67.3),
    (79.0, 64.2), (79.3, 61.1), (78.7, 58.3), (79.6, 54.2), (79.1, 49.1), (79.4, 44.3),
    (80.3, 83.1), (79.9, 80.2), (80.1, 77.1), (80.5, 74.3), (79.8, 71.2), (80.2, 68.1),
    (80.6, 65.3), (80.0, 62.2), (80.4, 59.1), (79.7, 56.3), (80.3, 51.2), (80.1, 46.1),
    (81.2, 84.2), (80.8, 81.3), (81.4, 78.1), (81.1, 75.2), (80.9, 72.4), (81.5, 69.1),
    (81.0, 66.3), (81.3, 63.2), (80.7, 60.1), (81.6, 57.3), (81.2, 53.1), (81.4, 47.2),
    (82.1, 84.3), (81.8, 82.1), (82.4, 79.3), (82.2, 76.2), (81.9, 73.1), (82.5, 70.3),
    (82.0, 67.2), (82.3, 64.1), (81.7, 61.3), (82.6, 58.2), (82.1, 54.4), (82.3, 49.1),
    (83.3, 85.1), (82.9, 82.2), (83.1, 80.4), (83.5, 77.1), (82.8, 74.3), (83.2, 71.2),
    (83.6, 68.1), (83.0, 65.3), (83.4, 62.2), (82.7, 59.1), (83.3, 55.2), (83.1, 50.3),
    (84.2, 85.3), (83.8, 83.1), (84.4, 80.2), (84.1, 77.3), (83.9, 74.1), (84.5, 71.2),
    (84.0, 68.4), (84.3, 65.1), (83.7, 62.3), (84.6, 58.1), (84.2, 53.4), (84.8, 42.2),
    (85.1, 86.2), (84.8, 84.1), (85.4, 81.2), (85.2, 78.4), (84.9, 75.1), (85.5, 72.3),
    (85.0, 69.2), (85.3, 66.1), (84.7, 63.3), (85.6, 59.2), (85.1, 54.1),
    (86.2, 86.1), (85.8, 84.3), (86.4, 81.1), (86.1, 78.2), (85.9, 75.3), (86.5, 72.1),
    (86.0, 69.3), (86.3, 65.2), (85.7, 61.1), (86.2, 33.2), (86.2, 29.2),
    (87.1, 86.3), (86.8, 83.2), (87.4, 80.1), (87.2, 77.2), (86.9, 74.3), (87.5, 70.1),
    (87.0, 66.2), (87.3, 62.4),
    (88.2, 84.1), (87.8, 81.2), (88.4, 78.3), (88.1, 74.1), (87.9, 70.2), (88.5, 66.4),
    (89.1, 80.2), (88.8, 76.3), (89.4, 72.1), (89.2, 68.2),
    (91.4, 65.5), (91.0, 33.2), (91.4, 31.3),
    (93.6, 57.5), (93.3, 49.2), (93.8, 43.0), (93.8, 33.1), (93.8, 76.6), (94.3, 40.0),
    (96.2, 71.3), (96.7, 70.5), (95.7, 66.2), (96.2, 38.6), (97.1, 48.8), (96.7, 33.2),
    (74.6, 66.7), (75.7, 68.8), (76.8, 70.6), (77.7, 72.7), (78.6, 74.7), (79.7, 76.8),
    (80.6, 78.6), (81.7, 80.7), (82.7, 81.6), (83.7, 83.7), (84.6, 84.7), (73.6, 63.8),
    (75.6, 65.7), (77.6, 67.6), (79.6, 69.8), (81.6, 71.7), (83.6, 73.6), (85.6, 76.6),
    (76.6, 64.6), (78.6, 66.8), (80.7, 69.7), (82.7, 72.6), (84.7, 79.6), (86.6, 82.6),
    (22.9, 24.5), (23.7, 25.1), (24.6, 25.7), (25.6, 26.8), (26.6, 27.6), (27.7, 28.6),
    (28.6, 29.6), (29.6, 30.5), (30.6, 31.4), (31.6, 32.6), (32.6, 33.6),
    (60.6, 52.8), (61.7, 54.6), (62.6, 53.7), (63.7, 57.6), (64.6, 56.8), (65.7, 58.9),
    (66.7, 57.7), (67.7, 62.6), (68.7, 61.7), (69.6, 63.8), (70.7, 62.7), (71.6, 67.8),
    (72.7, 64.6), (73.7, 67.7), (74.6, 70.8), (75.7, 72.6), (76.7, 73.8), (77.6, 75.7),
    (78.7, 77.6), (79.6, 78.7), (80.7, 80.9), (81.6, 82.8), (82.6, 83.7), (83.7, 84.6),
    (84.6, 82.7), (85.7, 83.6), (86.7, 84.8), (87.6, 85.7), (87.7, 82.6), (86.7, 79.7),
    (85.7, 80.6), (84.7, 76.6), (83.7, 78.6), (82.7, 77.8), (81.7, 76.7), (80.7, 75.8),
    (79.7, 74.7), (78.7, 73.8), (77.7, 70.7), (76.7, 68.8), (75.7, 63.7), (74.7, 61.8),
    (73.7, 59.7), (72.7, 58.7), (71.7, 55.7), (70.7, 57.6), (69.7, 50.7), (68.7, 55.7),
    (67.7, 50.6), (66.7, 48.7), (65.7, 49.6), (64.7, 47.7), (63.7, 45.6), (62.7, 43.7),
    (61.7, 44.6), (60.7, 42.7),
    (79.6, 65.7), (80.6, 63.7), (81.6, 64.8), (82.6, 62.7), (83.6, 63.8), (84.6, 60.7),
    (85.6, 62.8), (86.6, 67.7), (87.6, 68.8), (88.6, 72.7), (88.7, 75.6), (87.7, 79.6),
    (86.6, 76.7), (85.6, 70.6), (84.7, 73.7), (83.6, 69.7), (82.6, 68.8), (81.6, 67.7),
    (80.6, 66.8), (79.6, 62.6), (78.6, 61.7), (77.6, 60.7), (76.6, 58.7), (75.6, 56.7),
    (74.6, 54.7), (73.6, 52.6), (72.6, 51.7), (71.6, 48.6), (70.6, 49.7), (79.7, 59.7),
    (80.7, 57.7), (81.7, 58.6), (82.6, 56.7), (83.6, 57.7), (84.7, 55.6), (78.6, 55.7),
    (77.6, 56.7), (76.6, 54.6), (75.6, 52.8),
    (25.6, 35.8), (26.6, 36.9), (27.6, 34.7), (28.6, 37.7), (26.7, 33.6), (25.7, 38.7),
    (27.7, 37.8), (28.7, 35.6), (29.6, 36.7), (26.6, 39.6), (27.8, 31.8), (28.7, 31.6),
]

group_names = ["Group A", "Group B", "Group C", "Group D"]
tick_vals = [0, 20, 40, 60, 80, 100]

panels = [np.array(p).T for p in (group_a_pts, group_b_pts, group_c_pts, group_d_pts)]

serif = "Liberation Serif"
fig = plt.figure(figsize=(8.99, 7.63), dpi=100)

boxes = [
    [0.1057, 0.574, 0.4194, 0.3185],
    [0.5706, 0.574, 0.4205, 0.3185],
    [0.1057, 0.1782, 0.4194, 0.325],
    [0.5717, 0.1782, 0.4205, 0.325],
]

for i, (name, box, (px, py)) in enumerate(zip(group_names, boxes, panels)):
    ax = fig.add_axes(box)
    ax.axline((0, 0), slope=1, color="#9a9a9a", lw=1.2, zorder=1)
    # open circles with a faint grey core, as in the scanned R plot
    ax.scatter(px, py, s=28, facecolors=(0.5, 0.5, 0.5, 0.28),
               edgecolors=(0.12, 0.12, 0.12, 0.75), linewidths=1.0, zorder=2)
    ax.set_xlim(-4, 104)
    ax.set_ylim(-4, 104)
    ax.set_xticks(tick_vals)
    ax.set_yticks(tick_vals)
    for sp in ax.spines.values():
        sp.set_color("#8a8a8a")
        sp.set_linewidth(1.2)
    ax.tick_params(direction="out", length=5, width=1, color="#8a8a8a")
    ax.tick_params(axis="x", pad=13)
    ax.tick_params(axis="y", pad=8)
    if i < 2:
        ax.set_xticklabels([])
    else:
        ax.set_xticklabels([str(t) for t in tick_vals], fontfamily=serif, fontsize=17)
    if i % 2 == 1:
        ax.set_yticklabels([])
    else:
        ax.set_yticklabels([str(t) for t in tick_vals], fontfamily=serif, fontsize=17,
                           rotation=90, va="center")
    ax.set_title(name, fontfamily="Liberation Sans", fontweight="bold",
                 fontsize=10, pad=9, color="#222222")

fig.text(0.515, 0.963, "LAS Using IPCW PO vs. PO by Diagnosis Group",
         fontfamily=serif, fontsize=28.5, ha="center", va="center", color="#111111")
fig.text(0.523, 0.076, "LAS Using IPCW PO Method",
         fontfamily=serif, fontsize=22, ha="center", va="center", color="#111111")
fig.text(0.034, 0.541, "LAS Using Traditional PO Method",
         fontfamily=serif, fontsize=23.5, ha="center", va="center", rotation=90,
         color="#111111")
fig.text(0.466, 0.018, "(a)", fontfamily=serif, fontsize=17, ha="right",
         va="baseline", color="#111111")
fig.text(0.469, 0.018, "IPCW PO vs. PO", fontfamily=serif, fontsize=12, ha="left",
         va="baseline", color="#111111")

fig.savefig("out.png", dpi=100)
